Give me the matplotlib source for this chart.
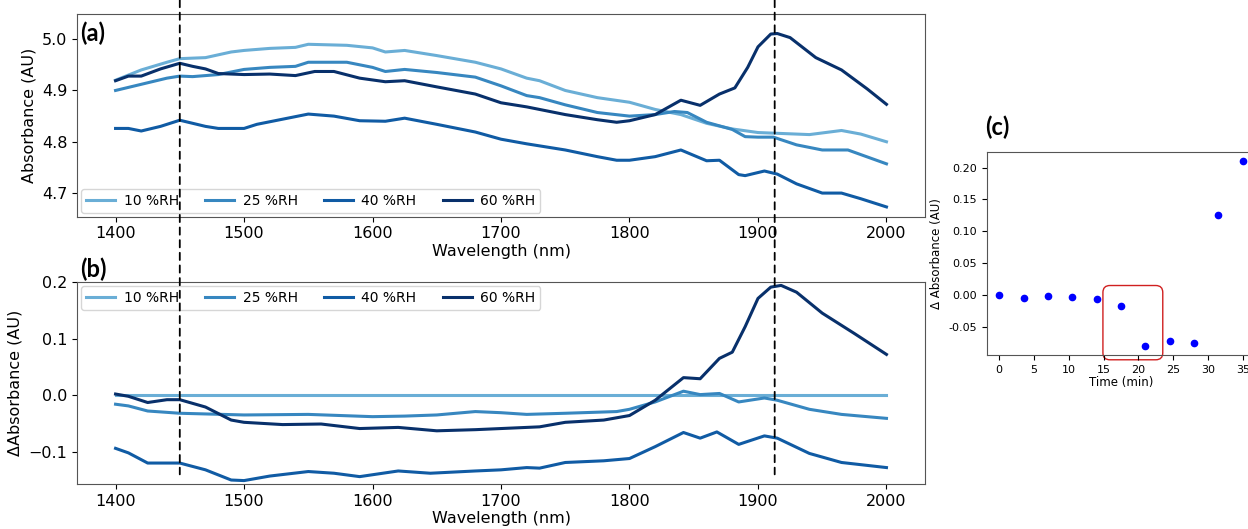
import numpy as np
import matplotlib
matplotlib.use("Agg")
import matplotlib.pyplot as plt
from matplotlib.patches import ConnectionPatch, FancyBboxPatch
from matplotlib.transforms import blended_transform_factory

# ---- data ----
labels = ["10 %RH", "25 %RH", "40 %RH", "60 %RH"]

# (a) absorbance spectra
wl_10 = [1400, 1420, 1440, 1450, 1470, 1490, 1500, 1520, 1540, 1550, 1580, 1600, 1610, 1625, 1650, 1680,
         1700, 1720, 1730, 1750, 1775, 1800, 1820, 1840, 1860, 1880, 1900, 1920, 1940, 1965, 1980, 2000]
abs_10 = [4.920, 4.940, 4.955, 4.962, 4.964, 4.975, 4.978, 4.982, 4.984, 4.990, 4.988, 4.983, 4.975, 4.978, 4.968, 4.955,
          4.942, 4.924, 4.919, 4.900, 4.886, 4.877, 4.863, 4.853, 4.836, 4.825, 4.818, 4.816, 4.814, 4.822, 4.815, 4.800]

wl_25 = [1400, 1420, 1440, 1450, 1460, 1480, 1500, 1520, 1540, 1550, 1580, 1600, 1610, 1625, 1650, 1680,
         1700, 1720, 1730, 1750, 1775, 1800, 1820, 1835, 1845, 1860, 1880, 1890, 1900, 1912, 1930, 1950, 1970, 2000]
abs_25 = [4.900, 4.912, 4.924, 4.928, 4.927, 4.931, 4.941, 4.945, 4.947, 4.955, 4.955, 4.945, 4.937, 4.941, 4.935, 4.926,
          4.909, 4.890, 4.886, 4.872, 4.857, 4.850, 4.853, 4.859, 4.857, 4.838, 4.824, 4.810, 4.809, 4.809, 4.794, 4.784, 4.784, 4.757]

wl_40 = [1400, 1410, 1420, 1435, 1450, 1470, 1480, 1500, 1510, 1530, 1550, 1570, 1590, 1610, 1625, 1650, 1680,
         1700, 1720, 1750, 1775, 1790, 1800, 1820, 1840, 1860, 1870, 1885, 1890, 1905, 1915, 1930, 1950, 1965, 1980, 2000]
abs_40 = [4.826, 4.826, 4.821, 4.830, 4.842, 4.830, 4.826, 4.826, 4.834, 4.844, 4.854, 4.850, 4.841, 4.840, 4.846, 4.834, 4.819,
          4.805, 4.796, 4.784, 4.771, 4.764, 4.764, 4.771, 4.784, 4.763, 4.764, 4.736, 4.734, 4.743, 4.737, 4.718, 4.700, 4.700, 4.689, 4.673]

wl_60 = [1400, 1410, 1420, 1435, 1450, 1460, 1470, 1480, 1500, 1520, 1540, 1555, 1570, 1590, 1610, 1625, 1650, 1680,
         1700, 1720, 1750, 1775, 1790, 1800, 1820, 1840, 1855, 1870, 1882, 1892, 1900, 1910, 1915, 1925, 1945, 1965, 1985, 2000]
abs_60 = [4.919, 4.928, 4.928, 4.942, 4.953, 4.947, 4.942, 4.933, 4.931, 4.932, 4.929, 4.937, 4.937, 4.924, 4.917, 4.919, 4.907, 4.893,
          4.876, 4.868, 4.853, 4.843, 4.838, 4.841, 4.853, 4.881, 4.871, 4.893, 4.905, 4.945, 4.985, 5.010, 5.011, 5.003, 4.964, 4.940, 4.903, 4.873]

# (b) difference spectra
dwl_10 = [1400, 2000]
dabs_10 = [0.0, 0.0]

dwl_25 = [1400, 1410, 1425, 1450, 1500, 1550, 1600, 1625, 1650, 1680, 1700, 1720, 1750, 1790, 1800, 1820,
          1842, 1855, 1870, 1885, 1905, 1915, 1940, 1965, 2000]
dabs_25 = [-0.016, -0.019, -0.028, -0.032, -0.035, -0.034, -0.038, -0.037, -0.035, -0.029, -0.031, -0.034, -0.032, -0.029, -0.025, -0.012,
           0.007, 0.001, 0.003, -0.012, -0.005, -0.009, -0.025, -0.034, -0.041]

dwl_40 = [1400, 1410, 1425, 1450, 1470, 1490, 1500, 1520, 1550, 1570, 1590, 1620, 1645, 1680, 1700, 1720, 1730, 1750, 1780, 1800,
          1820, 1842, 1855, 1868, 1885, 1905, 1915, 1940, 1965, 2000]
dabs_40 = [-0.094, -0.102, -0.120, -0.120, -0.132, -0.150, -0.151, -0.143, -0.135, -0.138, -0.144, -0.134, -0.138, -0.134, -0.132, -0.128, -0.129, -0.119, -0.116, -0.112,
           -0.091, -0.066, -0.076, -0.065, -0.087, -0.072, -0.076, -0.103, -0.119, -0.128]

dwl_60 = [1400, 1410, 1425, 1440, 1450, 1470, 1490, 1500, 1530, 1560, 1590, 1620, 1650, 1680, 1700, 1730, 1750, 1780, 1800, 1820,
          1842, 1855, 1870, 1880, 1890, 1900, 1910, 1918, 1930, 1950, 1975, 2000]
dabs_60 = [0.002, -0.002, -0.013, -0.008, -0.008, -0.021, -0.044, -0.048, -0.052, -0.051, -0.059, -0.057, -0.063, -0.061, -0.059, -0.056, -0.048, -0.044, -0.036, -0.009,
           0.031, 0.029, 0.065, 0.076, 0.121, 0.171, 0.191, 0.194, 0.182, 0.145, 0.109, 0.072]

# (c) change in absorbance vs time
time_min = [0, 3.5, 7, 10.5, 14, 17.5, 21, 24.5, 28, 31.5, 35]
delta_abs = [0.0, -0.005, -0.002, -0.003, -0.007, -0.017, -0.080, -0.073, -0.075, 0.125, 0.210]

marker_wl = [1450, 1913]
highlight_t = (14.9, 23.5)
highlight_a = (-0.102, 0.0147)

colors = plt.cm.Blues([0.5, 0.667, 0.833, 1.0])

fig = plt.figure(figsize=(12.48, 5.29), dpi=100)
ax_a = fig.add_axes([0.0617, 0.5904, 0.6795, 0.3831])
ax_b = fig.add_axes([0.0617, 0.0851, 0.6795, 0.3818])
ax_c = fig.add_axes([0.7909, 0.3289, 0.2147, 0.3838])

series_a = [(wl_10, abs_10), (wl_25, abs_25), (wl_40, abs_40), (wl_60, abs_60)]
series_b = [(dwl_10, dabs_10), (dwl_25, dabs_25), (dwl_40, dabs_40), (dwl_60, dabs_60)]

for (x, y), c, lab in zip(series_a, colors, labels):
    ax_a.plot(x, y, color=c, lw=2.2, label=lab)
for (x, y), c, lab in zip(series_b, colors, labels):
    ax_b.plot(x, y, color=c, lw=2.2, label=lab)

ax_a.set_xlim(1370, 2030)
ax_a.set_ylim(4.654, 5.049)
ax_a.set_yticks([4.7, 4.8, 4.9, 5.0])
ax_b.set_xlim(1370, 2030)
ax_b.set_ylim(-0.157, 0.2)
ax_b.set_yticks([-0.1, 0.0, 0.1, 0.2])

for ax, ylab in [(ax_a, "Absorbance (AU)"), (ax_b, "ΔAbsorbance (AU)")]:
    ax.set_xticks([1400, 1500, 1600, 1700, 1800, 1900, 2000])
    ax.tick_params(labelsize=11.5)
    ax.set_xlabel("Wavelength (nm)", fontsize=11.5, labelpad=2)
    ax.set_ylabel(ylab, fontsize=11.5)
    for s in ax.spines.values():
        s.set_color("#555555")

leg_kw = dict(ncol=4, fontsize=10, handlelength=2.1, handletextpad=0.6, columnspacing=1.9,
              borderaxespad=0.3, borderpad=0.35)
ax_a.legend(loc="lower left", **leg_kw)
ax_b.legend(loc="upper left", **leg_kw)

# dashed markers running across both spectra panels
top_tr = blended_transform_factory(ax_a.transData, fig.transFigure)
for w in marker_wl:
    con = ConnectionPatch(xyA=(w, 1.0), coordsA=top_tr,
                          xyB=(w, -0.14), coordsB=ax_b.transData,
                          color="black", ls=(0, (4, 3)), lw=1.3)
    fig.add_artist(con)

# (c)
ax_c.plot(time_min, delta_abs, "o", color="blue", ms=4.5)
ax_c.set_xlim(-1.75, 36.75)
ax_c.set_ylim(-0.0945, 0.2245)
ax_c.set_xticks([0, 5, 10, 15, 20, 25, 30, 35])
ax_c.set_yticks([-0.05, 0.0, 0.05, 0.10, 0.15, 0.20])
ax_c.yaxis.set_major_formatter(matplotlib.ticker.FormatStrFormatter("%.2f"))
ax_c.tick_params(labelsize=8)
ax_c.set_xlabel("Time (min)", fontsize=8.5, labelpad=1)
ax_c.set_ylabel("Δ Absorbance (AU)", fontsize=8.5)
for s in ax_c.spines.values():
    s.set_color("#555555")

box = FancyBboxPatch((highlight_t[0], highlight_a[0]), highlight_t[1] - highlight_t[0],
                     highlight_a[1] - highlight_a[0],
                     boxstyle="round,pad=0,rounding_size=1.0", mutation_aspect=0.011,
                     transform=ax_c.transData, fill=False, ec="#d02020", lw=1.0, clip_on=False)
ax_c.add_patch(box)

panel_font = dict(fontsize=17, fontweight="bold", family=["Lato", "DejaVu Sans"])
fig.text(80 / 1248, 1 - 33 / 529, "(a)", va="center", ha="left", **panel_font)
fig.text(80 / 1248, 1 - 269 / 529, "(b)", va="center", ha="left", **panel_font)
fig.text(985 / 1248, 1 - 127 / 529, "(c)", va="center", ha="left", **panel_font)

fig.savefig("out.png", dpi=100)
